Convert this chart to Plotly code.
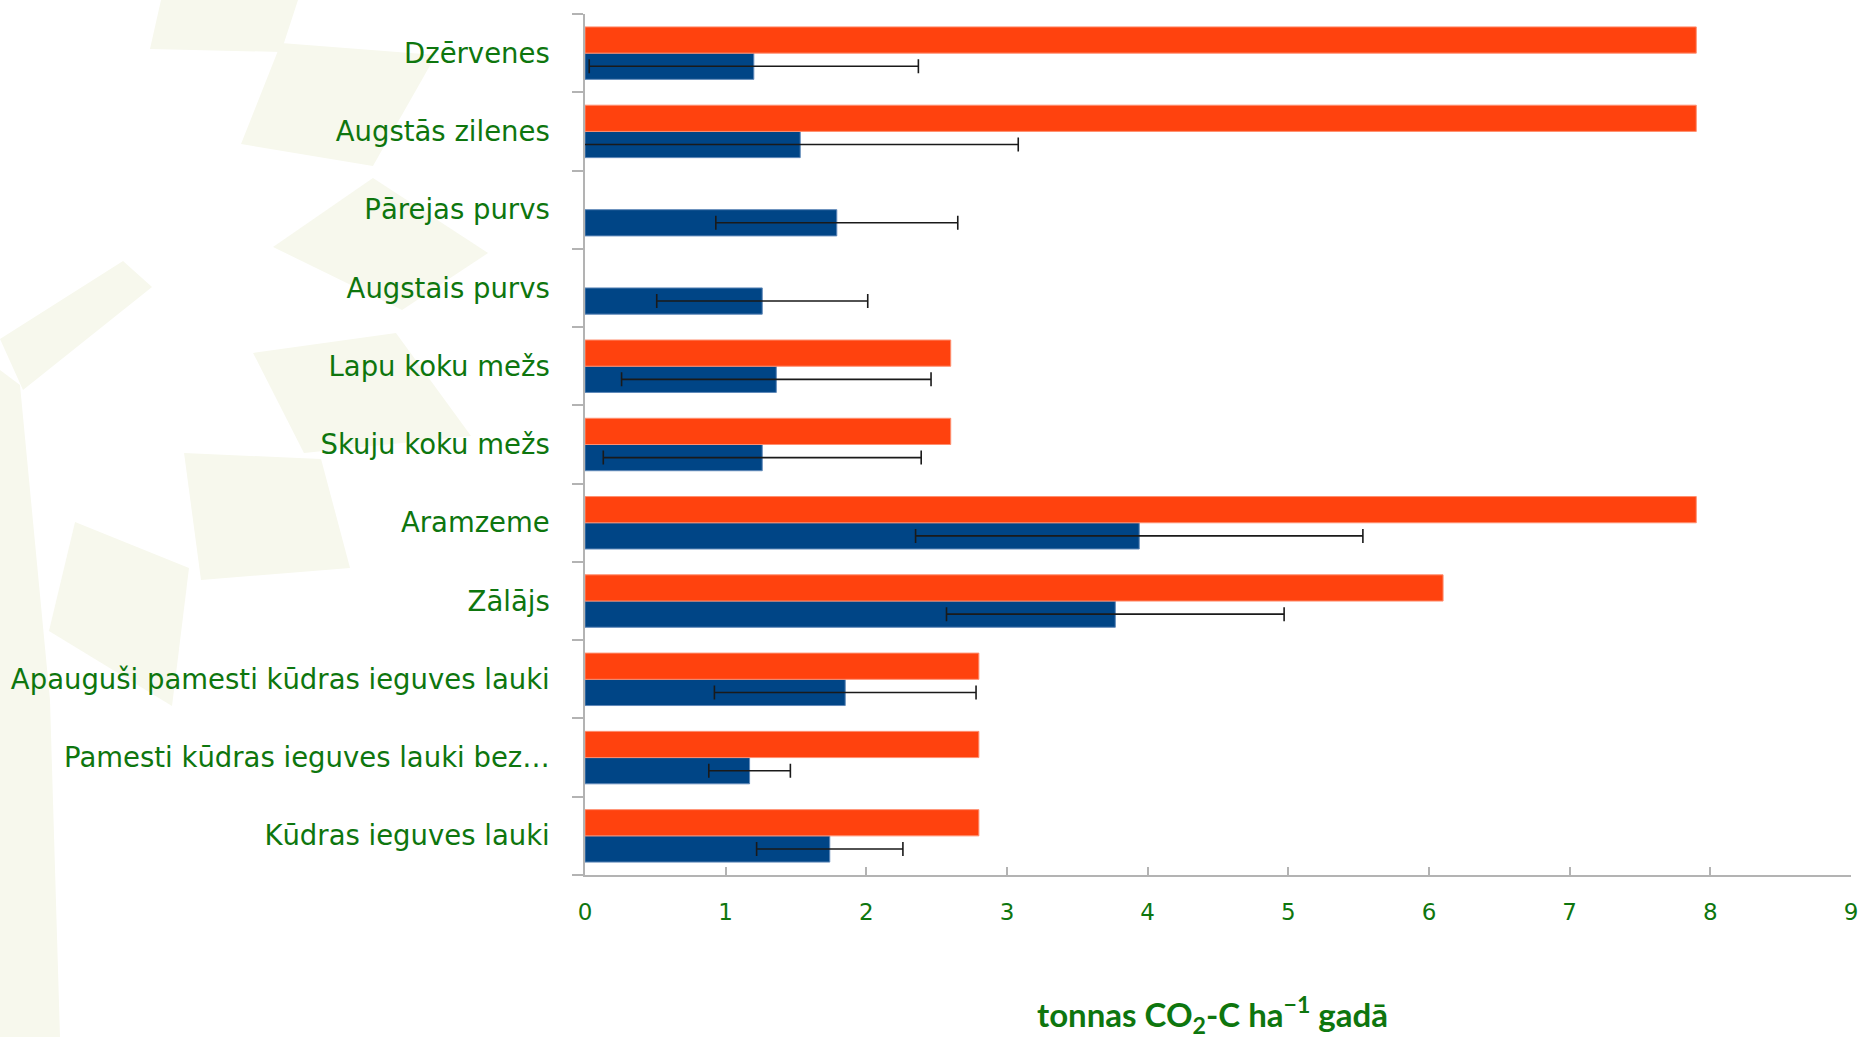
import plotly.graph_objects as go

# ---------------- data ----------------
categories = [
    "Kūdras ieguves lauki",
    "Pamesti kūdras ieguves lauki bez…",
    "Apauguši pamesti kūdras ieguves lauki",
    "Zālājs",
    "Aramzeme",
    "Skuju koku mežs",
    "Lapu koku mežs",
    "Augstais purvs",
    "Pārejas purvs",
    "Augstās zilenes",
    "Dzērvenes",
]
measured_values = [1.74, 1.17, 1.85, 3.77, 3.94, 1.26, 1.36, 1.26, 1.79, 1.53, 1.20]
measured_errors = [0.52, 0.29, 0.93, 1.20, 1.59, 1.13, 1.10, 0.75, 0.86, 1.55, 1.17]
default_values = [2.8, 2.8, 2.8, 6.1, 7.9, 2.6, 2.6, None, None, 7.9, 7.9]
x_ticks = [0, 1, 2, 3, 4, 5, 6, 7, 8, 9]
x_title = "<b>tonnas CO<sub>2</sub>-C ha<sup>−1</sup> gadā</b>"

# ---------------- style ----------------
W, H = 1862, 1037
L, R, T, B = 585, 11, 14, 1037 - 875
GREEN = "#0e760e"
BLUE = "#004586"
ORANGE = "#ff420e"
GREY = "#b3b3b3"
FONT = "DejaVu Sans"

fig = go.Figure()
fig.add_trace(go.Bar(
    y=categories, x=measured_values, orientation="h",
    marker=dict(color=BLUE, line=dict(color="#5f88b8", width=1)),
    error_x=dict(type="data", array=measured_errors, color="#1a1a1a",
                 thickness=1.6, width=7),
    hoverinfo="x+y",
))
fig.add_trace(go.Bar(
    y=categories, x=default_values, orientation="h",
    marker=dict(color=ORANGE, line=dict(color="#ff8f70", width=1)),
    hoverinfo="x+y",
))

# decorative faint background shapes (page-pixel polygons -> paper coords)
def to_paper(px, py):
    return ((px - L) / (W - L - R), (H - B - py) / (H - T - B))

deco = [
    [(161, 0), (298, 0), (281, 52), (150, 49)],
    [(281, 43), (436, 55), (373, 166), (241, 144)],
    [(273, 247), (373, 178), (488, 253), (402, 310)],
    [(0, 339), (123, 261), (152, 287), (23, 390)],
    [(253, 353), (396, 333), (471, 436), (304, 453)],
    [(184, 453), (321, 459), (350, 568), (201, 580)],
    [(75, 522), (189, 568), (172, 706), (49, 631)],
    [(0, 370), (20, 385), (50, 700), (60, 1037), (0, 1037)],
]
shapes = []
for poly in deco:
    pts = [to_paper(x, y) for x, y in poly]
    path = "M " + " L ".join(f"{x:.4f},{y:.4f}" for x, y in pts) + " Z"
    shapes.append(dict(type="path", path=path, xref="paper", yref="paper",
                       fillcolor="#f7f8ed", line=dict(width=0), layer="below"))

tx, ty = to_paper(1212, 1014)

fig.update_layout(
    width=W, height=H,
    margin=dict(l=L, r=R, t=T, b=B, autoexpand=False),
    paper_bgcolor="white",
    plot_bgcolor="rgba(0,0,0,0)",
    barmode="group",
    bargap=0.33,
    bargroupgap=0,
    showlegend=False,
    font=dict(family=FONT, color=GREEN),
    shapes=shapes,
    xaxis=dict(
        range=[0, 9], tickvals=x_ticks, ticks="inside", ticklen=8,
        tickcolor=GREY, tickwidth=1.5, showline=True, linecolor=GREY,
        linewidth=1.5, showgrid=False, zeroline=False,
        tickfont=dict(size=23, color=GREEN, family=FONT),
        ticklabelstandoff=16, ticklabeloverflow="allow",
    ),
    yaxis=dict(
        type="category", categoryorder="array", categoryarray=categories,
        tickson="boundaries", ticks="outside", ticklen=11, tickcolor=GREY,
        tickwidth=1.5, showline=True, linecolor=GREY, linewidth=1.5,
        showgrid=False, zeroline=False,
        tickfont=dict(size=27.5, color=GREEN, family=FONT),
        ticklabelstandoff=28,
    ),
    annotations=[dict(
        text=x_title, xref="paper", yref="paper", x=tx, y=ty,
        xanchor="center", yanchor="middle", showarrow=False,
        font=dict(size=33, color=GREEN, family="Lato"),
    )],
)

page_fix = (
    "document.documentElement.style.margin='0';"
    "document.body.style.margin='0';"
    "document.documentElement.style.overflow='hidden';"
    "document.body.style.overflow='hidden';"
)
fig.write_html("out.html", post_script=page_fix,
               config={"displayModeBar": False})
